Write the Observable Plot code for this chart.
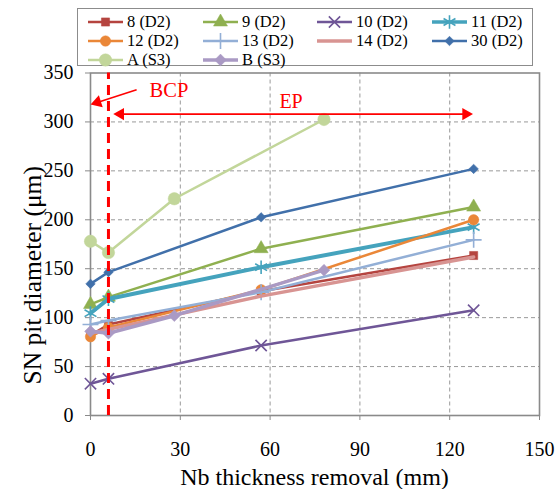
<!DOCTYPE html>
<html>
<head>
<meta charset="utf-8">
<script src="https://cdn.jsdelivr.net/npm/d3@7"></script>
<script src="https://cdn.jsdelivr.net/npm/@observablehq/plot@0.6"></script>
<style>
  html, body { margin: 0; padding: 0; background: #fff; }
  #wrap { position: relative; width: 556px; height: 489px; font-family: 'Liberation Serif', 'Times New Roman', Tinos, 'DejaVu Serif', serif; }
  #wrap svg text { font-family: 'Liberation Serif', 'Times New Roman', Tinos, 'DejaVu Serif', serif; }
  #legend { position: absolute; left: 77px; top: 8px; width: 456px; height: 58px; border: 1px solid #8c8c8c; background: #fff; box-sizing: border-box; }
  .item { position: absolute; height: 18px; display: flex; align-items: center; font-size: 16.5px; white-space: nowrap; }
  .item svg { margin-right: 3px; }
</style>
</head>
<body>
<div id="wrap"><div id="legend"></div></div>
<script>
// ---- data ----
const seriesNames = ["8 (D2)", "9 (D2)", "10 (D2)", "11 (D2)", "12 (D2)", "13 (D2)", "14 (D2)", "30 (D2)", "A (S3)", "B (S3)"];
const xD2 = [0, 6, 57, 128];
const xS3 = [0, 6, 28, 78];
const y8  = [82, 93, 127, 163.5];
const y9  = [113.5, 121, 170.5, 213];
const y10 = [32.5, 37.5, 71.5, 107.5];
const y11 = [104.5, 119, 151.5, 192.5];
const y12 = [80.5, 90, 128.5, 200];
const y13 = [93, 97, 126, 179.5];
const y14 = [84, 88, 122, 162];
const y30 = [134.5, 146.5, 202.5, 252];
const yA  = [178, 166.5, 221.5, 302.5];
const yB  = [86, 84, 102, 148.5];
const xTicks = [0, 30, 60, 90, 120, 150];
const yTicks = [0, 50, 100, 150, 200, 250, 300, 350];
const bcpX = 6;

const styles = [
  {color: "#B5443F", symbol: "square",   r: 4.6, w: 2.5, fill: true},
  {color: "#8FB050", symbol: "triangle", r: 5.2, w: 2.5, fill: true},
  {color: "#6F5697", symbol: "times",    r: 5.2, w: 2.5, fill: false},
  {color: "#45A3BD", symbol: "asterisk", r: 6.5, w: 4,   fill: false},
  {color: "#EA8738", symbol: "circle",   r: 5.2, w: 2.5, fill: true},
  {color: "#93AFD6", symbol: "plus",     r: 5.2, w: 2.5, fill: false},
  {color: "#D89492", symbol: null,       r: 0,   w: 3.5, fill: false},
  {color: "#4170AA", symbol: "diamond2", r: 4.3, w: 2.5, fill: true},
  {color: "#C2D69A", symbol: "circle",   r: 6.2, w: 2.5, fill: true},
  {color: "#AA9AC4", symbol: "diamond2", r: 5.3, w: 3.5, fill: true}
];
const xs = [xD2, xD2, xD2, xD2, xD2, xD2, xD2, xD2, xS3, xS3];
const ys = [y8, y9, y10, y11, y12, y13, y14, y30, yA, yB];

const series = seriesNames.map((name, i) => ({
  name, ...styles[i],
  pts: xs[i].map((x, j) => ({x, y: ys[i][j]}))
}));

const font = "'Liberation Serif', 'Times New Roman', Tinos, 'DejaVu Serif', serif";
const marks = [
  Plot.ruleX(xTicks.slice(1, -1), {stroke: "#999", strokeWidth: 1, strokeDasharray: "4,3"}),
  Plot.ruleY(yTicks.slice(1, -1), {stroke: "#999", strokeWidth: 1, strokeDasharray: "4,3"}),
  Plot.frame({stroke: "#8a8a8a", strokeWidth: 1.6}),
  Plot.axisX({ticks: xTicks, tickSize: 5, tickPadding: 21, fontSize: 20, label: null, stroke: "#8a8a8a", color: "#000", tickFormat: d => String(d)}),
  Plot.axisY({ticks: yTicks, tickSize: 5, tickPadding: 12, fontSize: 20, label: null, stroke: "#8a8a8a", color: "#000", tickFormat: d => String(d)})
];
for (const s of series) {
  marks.push(Plot.line(s.pts, {x: "x", y: "y", stroke: s.color, strokeWidth: s.w}));
  if (s.symbol) {
    marks.push(Plot.dot(s.pts, {x: "x", y: "y", symbol: s.symbol, r: s.r,
      fill: s.fill ? s.color : "none", stroke: s.color, strokeWidth: s.fill ? 0.5 : 1.6}));
  }
}
// annotations
marks.push(
  Plot.ruleX([bcpX], {y1: 0, y2: 350, stroke: "#ff0000", strokeWidth: 3, strokeDasharray: "10,6"}),
  Plot.link([{x1: 15.4, y1: 332.8, x2: 2.5, y2: 320}], {x1: "x1", y1: "y1", x2: "x2", y2: "y2", stroke: "#ff0000", strokeWidth: 1.6}),
  Plot.dot([{x: 2.3, y: 320}], {x: "x", y: "y", symbol: "triangle", r: 4.6, fill: "#ff0000", rotate: -108}),
  Plot.link([{x1: 10.5, x2: 124.5, y: 308}], {x1: "x1", x2: "x2", y1: "y", y2: "y", stroke: "#ff0000", strokeWidth: 1.6}),
  Plot.dot([{x: 10, y: 308}], {x: "x", y: "y", symbol: "triangle", r: 4.6, fill: "#ff0000", rotate: -90}),
  Plot.dot([{x: 125.4, y: 308}], {x: "x", y: "y", symbol: "triangle", r: 4.6, fill: "#ff0000", rotate: 90}),
  Plot.text([{x: 26.2, y: 332.5, t: "BCP"}], {x: "x", y: "y", text: "t", fill: "#ff0000", fontSize: 20.5}),
  Plot.text([{x: 67, y: 321, t: "EP"}], {x: "x", y: "y", text: "t", fill: "#ff0000", fontSize: 20}),
  Plot.text(["SN pit diameter (μm)"], {frameAnchor: "left", textAnchor: "middle", lineAnchor: "middle", rotate: -90, dx: -58, dy: 31, fontSize: 25.5, fill: "#000"}),
  Plot.text(["Nb thickness removal (mm)"], {frameAnchor: "bottom", textAnchor: "middle", lineAnchor: "middle", dx: -0.5, dy: 62, fontSize: 24, fill: "#000"})
);

const chart = Plot.plot({
  width: 556,
  height: 489,
  marginLeft: 90,
  marginRight: 17,
  marginTop: 72.5,
  marginBottom: 74,
  x: {domain: [0, 150]},
  y: {domain: [0, 350]},
  style: {fontFamily: font, background: "transparent", overflow: "visible"},
  marks
});
document.getElementById("wrap").prepend(chart);

// legend
const legend = document.getElementById("legend");
const colLeft = [10, 125, 239, 354];
const rowTop = [4, 22.5, 42];
series.forEach((s, i) => {
  const row = Math.floor(i / 4), col = i % 4;
  const item = document.createElement("div");
  item.className = "item";
  item.style.left = colLeft[col] + "px";
  item.style.top = rowTop[row] + "px";
  const svg = d3.create("svg").attr("width", 36).attr("height", 16);
  svg.append("line").attr("x1", 0).attr("x2", 35).attr("y1", 8).attr("y2", 8)
    .attr("stroke", s.color).attr("stroke-width", Math.min(s.w, 3.5));
  if (s.symbol) {
    const map = {square: d3.symbolSquare, triangle: d3.symbolTriangle, times: d3.symbolTimes,
      asterisk: d3.symbolAsterisk, circle: d3.symbolCircle, plus: d3.symbolPlus, diamond2: d3.symbolDiamond2};
    svg.append("path").attr("transform", "translate(17.5,8)")
      .attr("d", d3.symbol(map[s.symbol], s.r * s.r * Math.PI)())
      .attr("fill", s.fill ? s.color : "none").attr("stroke", s.color)
      .attr("stroke-width", s.fill ? 0.5 : 1.6);
  }
  item.appendChild(svg.node());
  const span = document.createElement("span");
  span.textContent = s.name;
  item.appendChild(span);
  legend.appendChild(item);
});
</script>
</body>
</html>
